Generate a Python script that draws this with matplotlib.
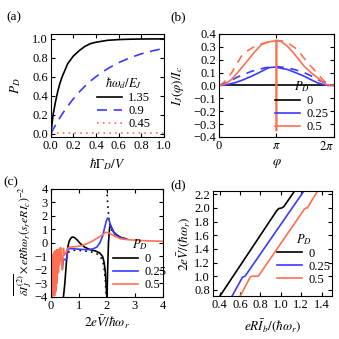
import numpy as np
import matplotlib
matplotlib.use("Agg")
import matplotlib.pyplot as plt
from matplotlib.ticker import FuncFormatter, MultipleLocator

plt.rcParams['font.family'] = ['Liberation Serif', 'DejaVu Serif']
plt.rcParams['mathtext.fontset'] = 'stix'
plt.rcParams['font.size'] = 9
plt.rcParams['xtick.direction'] = 'in'
plt.rcParams['ytick.direction'] = 'in'
plt.rcParams['xtick.top'] = True
plt.rcParams['ytick.right'] = True
plt.rcParams['xtick.major.size'] = 3
plt.rcParams['ytick.major.size'] = 3
plt.rcParams['axes.linewidth'] = 0.8

BLACK = '#000000'
BLUE = '#3a3aff'
ORANGE = '#ff6f52'

# ---------------- (a) ----------------
a_x = [0, 0.01, 0.02, 0.04, 0.06, 0.08, 0.1, 0.15, 0.2, 0.25, 0.3, 0.35, 0.4, 0.5, 0.6, 0.7, 0.8, 0.9, 1.0]
a_135 = [0, 0.1, 0.2, 0.33, 0.44, 0.53, 0.6, 0.74, 0.82, 0.875, 0.92, 0.95, 0.965, 0.985, 0.993, 0.997, 0.999, 1.0, 1.0]
a_09 = [0, 0.023, 0.045, 0.088, 0.129, 0.168, 0.206, 0.292, 0.369, 0.438, 0.499, 0.554, 0.602, 0.684, 0.749, 0.801, 0.842, 0.874, 0.90]
a_045 = [0.01] * 19
a_labels = ['1.35', '0.9', '0.45']

# ---------------- (b) ----------------
b_phi_or_s = [0, 0.1, 0.2, 0.27, 0.4, 0.51, 0.6, 0.74, 0.85, 0.92, 1.0, 1.0, 1.0, 1.07, 1.2, 1.3, 1.48, 1.6, 1.77, 1.86, 2.0]
b_or_s = [0, 0.01, 0.04, 0.072, 0.14, 0.2, 0.25, 0.318, 0.335, 0.343, 0.345, -0.35, 0.345, 0.345, 0.3, 0.25, 0.15, 0.1, 0.04, 0.008, 0]
b_phi_or_d = [0, 0.05, 0.1, 0.22, 0.39, 0.5, 0.63, 0.86, 1.0, 1.1, 1.2, 1.36, 1.5, 1.65, 1.83, 1.95, 2.0]
b_or_d = [0, 0.01, 0.03, 0.098, 0.227, 0.27, 0.305, 0.34, 0.35, 0.345, 0.33, 0.28, 0.2, 0.124, 0.033, 0.005, 0]
b_phi_bl_s = [0, 0.1, 0.27, 0.4, 0.57, 0.7, 0.86, 0.95, 1.0, 1.19, 1.3, 1.48, 1.6, 1.71, 1.83, 1.9, 2.0]
b_bl_s = [0, 0.003, 0.02, 0.04, 0.072, 0.1, 0.137, 0.142, 0.14, 0.124, 0.105, 0.072, 0.045, 0.021, 0.005, 0, 0]
b_phi_bl_d = [0, 0.1, 0.2, 0.32, 0.57, 0.8, 1.0, 1.13, 1.3, 1.48, 1.6, 1.77, 1.9, 2.0]
b_bl_d = [0, 0.015, 0.035, 0.065, 0.11, 0.137, 0.147, 0.14, 0.125, 0.1, 0.075, 0.033, 0.01, 0]
b_phi_k = [0, 2.0]
b_k = [0, 0]
pd_labels = ['0', '0.25', '0.5']

# ---------------- (c) ----------------
c_k1_x = [0.45, 0.5, 0.55, 0.6, 0.65, 0.7, 0.75, 0.8, 0.86, 0.95, 1.04, 1.2, 1.4, 1.6, 1.75, 1.85, 1.9, 1.95, 1.98, 2.0]
c_k1_y = [-4.0, -3.0, -1.6, -0.4, 0.1, 0.3, 0.42, 0.43, 0.37, 0.2, -0.02, -0.3, -0.5, -0.6, -0.75, -1.0, -1.4, -2.2, -3.2, -4.0]
c_k2_x = [2.01, 2.03, 2.06, 2.1, 2.13, 2.18, 2.25, 2.35, 2.5, 2.7]
c_k2_y = [-4.0, -2.0, 0.0, 1.1, 1.32, 1.1, 0.8, 0.6, 0.4, 0.3]
c_kd1_x = [0.62, 0.7, 0.8, 1.0, 1.2, 1.4, 1.6, 1.75, 1.85, 1.9, 1.95, 1.98]
c_kd1_y = [-0.7, -0.6, -0.55, -0.55, -0.6, -0.65, -0.75, -0.95, -1.3, -1.8, -2.8, -4.0]
c_kd2_x = [2.0, 2.02, 2.05, 2.08, 2.12, 2.2, 2.3, 2.5]
c_kd2_y = [4.0, 3.3, 2.4, 1.7, 1.2, 0.85, 0.6, 0.4]
c_bl_x = [0.13, 0.15, 0.17, 0.19, 0.21, 0.23, 0.25, 0.27, 0.29, 0.31, 0.33, 0.35, 0.37, 0.39, 0.41, 0.43,
          0.45, 0.5, 0.55, 0.58, 0.6, 0.7, 0.9, 1.1, 1.3, 1.5, 1.65, 1.75, 1.85, 1.92, 1.98, 2.03, 2.08,
          2.15, 2.25, 2.4, 2.55, 2.7]
c_bl_y = [-3.8, -2.5, -3.5, -1.2, -2.2, -1.0, -1.8, -0.9, -1.4, -0.8, -1.3, -1.0, -0.9, -1.3, -1.9, -1.6,
          -1.2, -1.25, -1.2, -1.1, -0.45, -0.42, -0.45, -0.48, -0.5, -0.45, -0.3, 0.0, 0.5, 1.1, 1.6, 1.85, 1.7,
          1.2, 0.75, 0.45, 0.35, 0.28]
c_or_x = [0.03, 0.04, 0.05, 0.06, 0.07, 0.08, 0.09, 0.10, 0.11, 0.12, 0.13, 0.14, 0.15, 0.16, 0.17, 0.18,
          0.19, 0.20, 0.21, 0.22, 0.23, 0.24, 0.25, 0.26, 0.27, 0.28, 0.29, 0.30, 0.31, 0.32, 0.33, 0.34,
          0.35, 0.37, 0.39, 0.41, 0.43, 0.45, 0.48, 0.52, 0.56, 0.6, 0.7,
          0.9, 1.1, 1.3, 1.5, 1.7, 1.85, 1.95, 2.05, 2.15, 2.3, 2.5, 2.7, 3.0, 3.5, 4.0]
c_or_y = [-4.0, -1.2, -3.9, -0.9, -3.7, -1.0, -3.9, -0.8, -3.5, -0.7, -3.9, -0.6, -3.2, -0.8, -3.6, -0.6,
          -2.8, -0.8, -3.0, -0.5, -2.4, -0.7, -2.0, -0.5, -2.2, -0.6, -1.5, -0.45, -1.6, -0.4, -1.2, -0.5,
          -0.35, -0.9, -1.4, -2.0, -1.2, -0.4, -0.9, -0.8, -0.6, -0.4, -0.3,
          -0.28, -0.2, -0.05, 0.15, 0.4, 0.6, 0.78, 0.75, 0.65, 0.48, 0.3, 0.25, 0.2, 0.15, 0.12]

# ---------------- (d) ----------------
d_k_x = [0.4, 0.96, 0.98, 1.01, 1.03, 1.15]
d_k_y = [0.7, 1.96, 1.99, 2.0, 2.02, 2.28]
d_bl_x = [0.52, 0.625, 0.65, 1.25]
d_bl_y = [0.7, 0.985, 1.0, 2.3]
d_or_x = [0.6, 0.7, 0.72, 0.78, 1.23, 1.245, 1.26, 1.36]
d_or_y = [0.7, 0.985, 1.0, 1.0, 1.98, 2.0, 2.0, 2.25]


def minus_fmt(fmt):
    return FuncFormatter(lambda v, p: (fmt % v).replace('-', '\u2212'))


fig = plt.figure(figsize=(3.39, 3.39), dpi=100)
axa = fig.add_axes([0.150, 0.596, 0.333, 0.304])
axb = fig.add_axes([0.646, 0.596, 0.339, 0.304])
axc = fig.add_axes([0.150, 0.124, 0.330, 0.319])
axd = fig.add_axes([0.628, 0.127, 0.351, 0.310])

lw = 1.2
FS = 9
LFS = 9.5
leg_kw = dict(frameon=False, handlelength=2.0, handletextpad=0.5, labelspacing=0.08,
              borderpad=0, borderaxespad=0, fontsize=FS, title_fontsize=FS, loc='upper left')

# (a)
axa.plot(a_x, a_135, color=BLACK, lw=lw, label=a_labels[0])
axa.plot(a_x, a_09, color=BLUE, lw=lw, dashes=(6, 4), label=a_labels[1])
axa.plot(a_x, a_045, color=ORANGE, lw=lw, dashes=(1, 2.5), label=a_labels[2])
axa.set_xlim(0, 1)
axa.set_ylim(-0.035, 1.053)
axa.xaxis.set_major_locator(MultipleLocator(0.2))
axa.yaxis.set_major_locator(MultipleLocator(0.2))
axa.xaxis.set_major_formatter(minus_fmt('%.1f'))
axa.yaxis.set_major_formatter(minus_fmt('%.1f'))
axa.set_xlabel(r'$\hbar\Gamma_D/V$', fontsize=LFS)
axa.set_ylabel(r'$P_D$', fontsize=LFS)
axa.xaxis.set_label_coords(0.5, -0.26)
axa.yaxis.set_label_coords(-0.31, 0.5)
axa.legend(title=r'$\hbar\omega_d/E_J$', bbox_to_anchor=(0.41, 0.60), **leg_kw)

# (b)
pi = np.pi
axb.plot(np.array(b_phi_or_d) * pi, b_or_d, color=ORANGE, lw=lw, dashes=(5, 4))
axb.plot(np.array(b_phi_bl_d) * pi, b_bl_d, color=BLUE, lw=lw, dashes=(5, 4))
axb.plot(np.array(b_phi_k) * pi, b_k, color=BLACK, lw=lw, label=pd_labels[0])
axb.plot(np.array(b_phi_bl_s) * pi, b_bl_s, color=BLUE, lw=lw, label=pd_labels[1])
axb.plot(np.array(b_phi_or_s) * pi, b_or_s, color=ORANGE, lw=lw, label=pd_labels[2])
axb.set_xlim(0, 2 * pi)
axb.set_ylim(-0.4, 0.4)
axb.set_xticks([0, pi, 2 * pi])
axb.set_xticklabels(['0', r'$\pi$', r'$2\pi$'])
axb.get_xticklabels()[-1].set_horizontalalignment('right')
axb.yaxis.set_major_locator(MultipleLocator(0.1))
axb.yaxis.set_major_formatter(minus_fmt('%.1f'))
axb.set_xlabel(r'$\varphi$', fontsize=LFS)
axb.set_ylabel(r'$I_J(\varphi)/I_c$', fontsize=LFS)
axb.xaxis.set_label_coords(0.5, -0.26)
axb.yaxis.set_label_coords(-0.36, 0.5)
axb.legend(title=r'$P_D$', bbox_to_anchor=(0.49, 0.56), **leg_kw)

# (c)
axc.plot(c_kd1_x, c_kd1_y, color=BLACK, lw=lw, dashes=(1, 2.5))
axc.plot(c_kd2_x, c_kd2_y, color=BLACK, lw=lw, dashes=(1, 2.5))
axc.plot(c_k1_x, c_k1_y, color=BLACK, lw=lw, label=pd_labels[0])
axc.plot(c_k2_x, c_k2_y, color=BLACK, lw=lw)
axc.plot(c_bl_x, c_bl_y, color=BLUE, lw=lw, label=pd_labels[1])
axc.plot(c_or_x, c_or_y, color=ORANGE, lw=lw, label=pd_labels[2])
axc.set_xlim(0, 4)
axc.set_ylim(-4, 4)
axc.xaxis.set_major_locator(MultipleLocator(1))
axc.yaxis.set_major_locator(MultipleLocator(1))
axc.xaxis.set_major_formatter(minus_fmt('%d'))
axc.yaxis.set_major_formatter(minus_fmt('%d'))
axc.set_xlabel(r'$2e\bar{V}/\hbar\omega_r$', fontsize=LFS)
axc.set_ylabel(r'$\overline{\delta I_J^{(2)}}\times eR\hbar\omega_r(s_r eRI_c)^{-2}$', fontsize=8.5)
axc.xaxis.set_label_coords(0.5, -0.24)
axc.yaxis.set_label_coords(-0.245, 0.52)
axc.legend(title=r'$P_D$', bbox_to_anchor=(0.56, 0.55), **leg_kw)

# (d)
axd.plot(d_k_x, d_k_y, color=BLACK, lw=lw, label=pd_labels[0])
axd.plot(d_bl_x, d_bl_y, color=BLUE, lw=lw, label=pd_labels[1])
axd.plot(d_or_x, d_or_y, color=ORANGE, lw=lw, label=pd_labels[2])
axd.set_xlim(0.335, 1.5)
axd.set_ylim(0.71, 2.25)
axd.xaxis.set_major_locator(MultipleLocator(0.2))
axd.yaxis.set_major_locator(MultipleLocator(0.2))
axd.xaxis.set_major_formatter(minus_fmt('%.1f'))
axd.yaxis.set_major_formatter(minus_fmt('%.1f'))
axd.set_xlabel(r'$eR\bar{I}_b/(\hbar\omega_r)$', fontsize=LFS)
axd.set_ylabel(r'$2e\bar{V}/(\hbar\omega_r)$', fontsize=LFS)
axd.xaxis.set_label_coords(0.5, -0.28)
axd.yaxis.set_label_coords(-0.25, 0.5)
axd.legend(title=r'$P_D$', bbox_to_anchor=(0.54, 0.61), **leg_kw)

for ax in (axa, axb, axc, axd):
    ax.xaxis.label.set_va('center')
    ax.yaxis.label.set_va('center')
    ax.tick_params(labelsize=FS, pad=2)

fig.text(6 / 339, 1 - 17 / 339, '(a)', fontsize=9.5, va='center')
fig.text(170 / 339, 1 - 17 / 339, '(b)', fontsize=9.5, va='center')
fig.text(3 / 339, 1 - 182 / 339, '(c)', fontsize=9.5, va='center')
fig.text(170 / 339, 1 - 185 / 339, '(d)', fontsize=9.5, va='center')

fig.savefig('out.png', dpi=100)
